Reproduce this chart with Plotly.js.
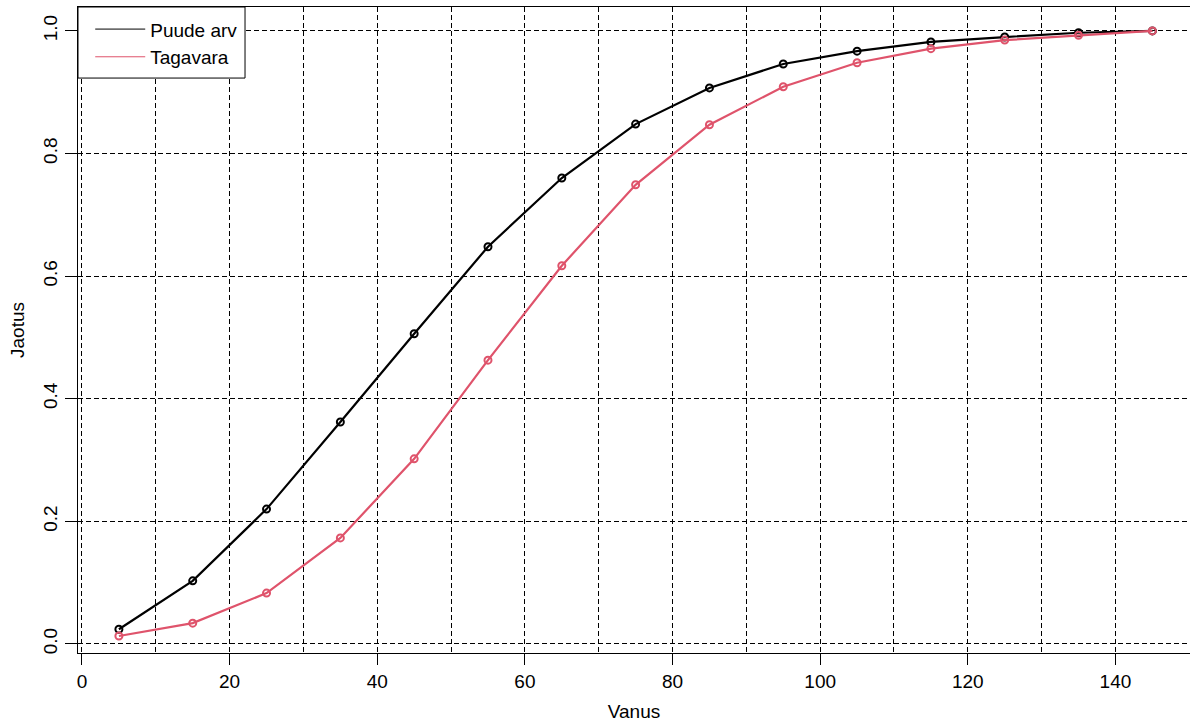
<!DOCTYPE html>
<html>
<head>
<meta charset="utf-8">
<script src="https://cdn.plot.ly/plotly-3.0.1.min.js"></script>
<style>html,body{margin:0;padding:0;background:#fff;}#chart{width:1190px;height:722px;}</style>
</head>
<body>
<div id="chart"></div>
<script>
const vanus = [5, 15, 25, 35, 45, 55, 65, 75, 85, 95, 105, 115, 125, 135, 145];
const puudeArv = [0.024, 0.103, 0.220, 0.362, 0.506, 0.648, 0.760, 0.848, 0.907, 0.946, 0.967, 0.982, 0.990, 0.997, 1.0];
const tagavara = [0.013, 0.034, 0.083, 0.173, 0.302, 0.463, 0.617, 0.749, 0.847, 0.909, 0.948, 0.971, 0.985, 0.993, 1.0];
const seriesNames = ["Puude arv", "Tagavara"];
const seriesColors = ["#000000", "#DF536B"];
const xTicks = [0, 20, 40, 60, 80, 100, 120, 140];
const yTicks = [0, 0.2, 0.4, 0.6, 0.8, 1.0];
const yTickText = ["0.0", "0.2", "0.4", "0.6", "0.8", "1.0"];

const font = {family: "Liberation Sans, Arial, sans-serif", size: 19, color: "#000"};
const dash = "5px,3px";

const dataSeries = [puudeArv, tagavara];
const traces = [];
dataSeries.forEach((ys, i) => {
  traces.push({x: vanus, y: ys, name: seriesNames[i], type: "scatter", mode: "lines+markers",
    showlegend: false,
    line: {color: seriesColors[i], width: 2.2},
    marker: {symbol: "circle-open", size: 7, color: seriesColors[i], line: {width: 2}}});
});
// legend entries (lines only, thin), as in the reference
seriesNames.forEach((nm, i) => {
  traces.push({x: [null], y: [null], name: nm, type: "scatter", mode: "lines",
    showlegend: true, line: {color: seriesColors[i], width: 1}});
});

const layout = {
  width: 1190, height: 722,
  margin: {l: 78, r: 0, t: 7, b: 69},
  paper_bgcolor: "#fff", plot_bgcolor: "#fff",
  font: font,
  showlegend: true,
  legend: {x: 0.011, y: 0.995, xanchor: "left", yanchor: "top", bgcolor: "rgba(0,0,0,0)",
           borderwidth: 0, font: font, tracegroupgap: 0, itemwidth: 50},
  shapes: [
    {type: "rect", xref: "paper", yref: "paper", x0: 0, x1: 0.1502, y0: 0.890, y1: 1,
     fillcolor: "#fff", line: {color: "#000", width: 1}, layer: "above"}
  ],
  xaxis: {
    range: [-0.54, 150.1], tickvals: xTicks, ticktext: xTicks.map(String),
    showline: true, linecolor: "#000", linewidth: 1, mirror: true,
    ticks: "outside", ticklen: 11, tickcolor: "#000", tickwidth: 1,
    showgrid: true, gridcolor: "#000", gridwidth: 1, griddash: dash,
    minor: {dtick: 10, tick0: 0, showgrid: true, gridcolor: "#000", gridwidth: 1, griddash: dash},
    zeroline: false,
    title: {text: "Vanus", font: font, standoff: 14},
    tickfont: font
  },
  yaxis: {
    range: [-0.0147, 1.039], tickvals: yTicks, ticktext: yTickText, tickangle: -90,
    showline: true, linecolor: "#000", linewidth: 1, mirror: true,
    ticks: "outside", ticklen: 12, tickcolor: "#000", tickwidth: 1,
    showgrid: true, gridcolor: "#000", gridwidth: 1, griddash: dash,
    zeroline: false,
    title: {text: "Jaotus", font: font, standoff: 10},
    tickfont: font
  }
};

Plotly.newPlot("chart", traces, layout, {displayModeBar: false, staticPlot: true});
</script>
</body>
</html>
